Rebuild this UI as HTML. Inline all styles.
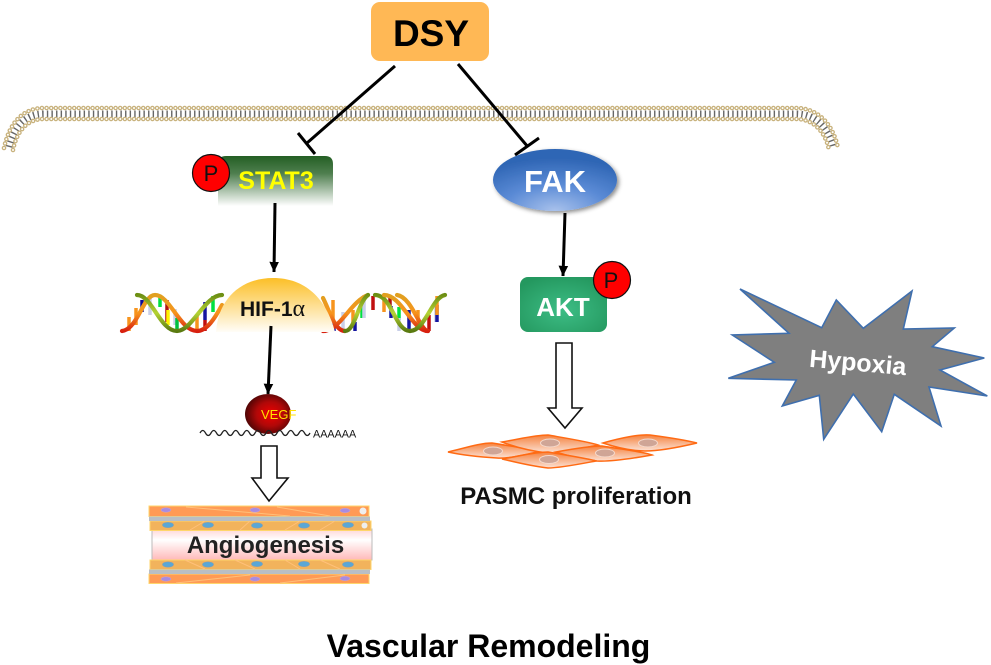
<!DOCTYPE html>
<html><head><meta charset="utf-8"><style>
html,body{margin:0;padding:0;background:#fff}
svg{display:block}
text{font-family:"Liberation Sans",Arial,sans-serif}
</style></head><body>
<svg width="991" height="665" viewBox="0 0 991 665" xmlns="http://www.w3.org/2000/svg">
<defs>
<linearGradient id="stat" x1="0" y1="0" x2="0" y2="1"><stop offset="0" stop-color="#245f24"/><stop offset=".35" stop-color="#4f7f4f"/><stop offset="1" stop-color="#fff"/></linearGradient>
<linearGradient id="dome" x1="0" y1="0" x2="0" y2="1"><stop offset="0" stop-color="#fcbf27"/><stop offset="1" stop-color="#fffdf8"/></linearGradient>
<radialGradient id="fak" cx=".5" cy="1" r=".85"><stop offset="0" stop-color="#a9c2ec"/><stop offset=".5" stop-color="#5b8bd6"/><stop offset="1" stop-color="#2f66b5"/></radialGradient>
<radialGradient id="akt" cx=".5" cy=".6" r=".65"><stop offset="0" stop-color="#3dbd85"/><stop offset="1" stop-color="#24985f"/></radialGradient>
<radialGradient id="vegf" cx=".55" cy=".5" r=".55"><stop offset="0" stop-color="#f00000"/><stop offset=".55" stop-color="#b00808"/><stop offset="1" stop-color="#4e0505"/></radialGradient>
<linearGradient id="tube" x1="0" y1="0" x2="0" y2="1"><stop offset="0" stop-color="#ffd6d6"/><stop offset=".35" stop-color="#fff"/><stop offset="1" stop-color="#ffb9b9"/></linearGradient>
<linearGradient id="cell" x1="0" y1="0" x2="0" y2="1"><stop offset="0" stop-color="#f5823e"/><stop offset="1" stop-color="#fbe2d6"/></linearGradient>
<linearGradient id="h1" gradientUnits="userSpaceOnUse" x1="0" y1="331" x2="0" y2="295"><stop offset="0" stop-color="#d8200f"/><stop offset=".5" stop-color="#f7941d"/><stop offset="1" stop-color="#e0a020"/></linearGradient>
<linearGradient id="h2" gradientUnits="userSpaceOnUse" x1="0" y1="331" x2="0" y2="295"><stop offset="0" stop-color="#5a7a10"/><stop offset=".5" stop-color="#b5d334"/><stop offset="1" stop-color="#6d8f14"/></linearGradient>
<filter id="sh" x="-20%" y="-20%" width="140%" height="140%"><feDropShadow dx="2" dy="2" stdDeviation="2" flood-color="#000" flood-opacity=".45"/></filter>
<marker id="ah" markerWidth="4" markerHeight="4" refX="3.4" refY="2" orient="auto"><path d="M0,0.4 L3.5,2 L0,3.6Z" fill="#000"/></marker>
</defs>

<!-- membrane -->
<g fill="none">
<path d="M9,147 C14,128 24,114 44,114 L796,114 C816,114 828,128 833,147" stroke="#666" stroke-width="7" stroke-dasharray="1.4 3.2"/>
<g stroke="#c8b27d" stroke-width="4.6" stroke-linecap="round" stroke-dasharray="0 4.6">
<path d="M4,148 C9,124 22,108 44,108 L796,108 C818,108 833,124 838,148"/>
<path d="M13,150 C17,130 28,119 44,119 L796,119 C812,119 825,130 829,150"/>
</g>
<g stroke="#fff" stroke-width="2" stroke-linecap="round" stroke-dasharray="0 4.6">
<path d="M4,148 C9,124 22,108 44,108 L796,108 C818,108 833,124 838,148"/>
<path d="M13,150 C17,130 28,119 44,119 L796,119 C812,119 825,130 829,150"/>
</g>
</g>

<!-- DSY -->
<rect x="371" y="2" width="118" height="59" rx="9" fill="#ffb855"/>
<text x="431" y="46" font-size="37" font-weight="bold" text-anchor="middle" fill="#000">DSY</text>

<!-- inhibit lines -->
<g stroke="#000" stroke-width="3" fill="none">
<path d="M395,66 L307,143"/><path d="M298,133 L315,154"/>
<path d="M458,64 L528,147"/><path d="M515,155 L539,138"/>
</g>

<!-- STAT3 -->
<path d="M226,156 H325 Q333,156 333,164 V206 H218 V164 Q218,156 226,156Z" fill="url(#stat)"/>
<circle cx="211" cy="173" r="18.5" fill="#f00" stroke="#111" stroke-width="1.2"/>
<text x="211" y="181" font-size="22" text-anchor="middle" fill="#111">P</text>
<text x="276" y="189" font-size="25" font-weight="bold" text-anchor="middle" fill="#ff0">STAT3</text>

<!-- FAK -->
<ellipse cx="555" cy="180" rx="62" ry="31" fill="url(#fak)" filter="url(#sh)"/>
<text x="555" y="192" font-size="31" font-weight="bold" text-anchor="middle" fill="#fff">FAK</text>

<!-- AKT -->
<rect x="520" y="277" width="87" height="55" rx="8" fill="url(#akt)"/>
<text x="563" y="316" font-size="26" font-weight="bold" text-anchor="middle" fill="#fff">AKT</text>
<circle cx="612" cy="280" r="18.5" fill="#f00" stroke="#111" stroke-width="1.2"/>
<text x="611" y="288" font-size="22" text-anchor="middle" fill="#111">P</text>

<!-- DNA left -->
<g stroke-width="3.5">
<path d="M129,317V331M136,308V325" stroke="#f7941d"/><path d="M142,300V312" stroke="#0a0a99"/><path d="M150,296V315" stroke="#c9cfe8"/>
<path d="M160,295V307" stroke="#00e040"/><path d="M167,300V322" stroke="#b01010"/><path d="M168,310V325" stroke="#fff200"/>
<path d="M175,309V325" stroke="#c9cfe8"/><path d="M177,318V331" stroke="#00c040"/><path d="M197,316V331" stroke="#f7941d"/>
<path d="M205,302V320" stroke="#1515a0"/><path d="M205,320V331" stroke="#c01010"/><path d="M213,296V312" stroke="#00e040"/>
</g>
<g fill="none" stroke-width="4.2" stroke-linecap="round">
<path d="M122,331 C138,329 143,295 155,295 C170,295 180,331 197,331 C207,331 215,318 222,305" stroke="url(#h1)"/>
<path d="M137,295 C152,295 160,331 177,331 C192,331 205,295 222,295" stroke="url(#h2)"/>
</g>
<!-- DNA right -->
<g stroke-width="3.5">
<path d="M333,300V320" stroke="#f7941d"/><path d="M327,322V331" stroke="#00e040"/><path d="M334,322V331" stroke="#1515a0"/>
<path d="M343,312V331" stroke="#c9cfe8"/><path d="M353,310V325" stroke="#f7941d"/><path d="M355,322V331" stroke="#1515a0"/>
<path d="M362,305V318" stroke="#00e040"/><path d="M364,295V318" stroke="#c9cfe8"/><path d="M373,296V310" stroke="#c01010"/>
<path d="M384,295V312" stroke="#f7941d"/><path d="M390,296V306" stroke="#b01010"/><path d="M391,306V318" stroke="#1515a0"/>
<path d="M399,307V320" stroke="#00e040"/><path d="M399,318V331" stroke="#c9cfe8"/><path d="M409,310V331" stroke="#1515a0"/>
<path d="M418,310V326" stroke="#f7941d"/><path d="M429,315V331" stroke="#c01010"/><path d="M436,300V322" stroke="#c9cfe8"/><path d="M437,305V322" stroke="#1515a0"/><path d="M437,296V315" stroke="#f7941d"/>
</g>
<g fill="none" stroke-width="4.2" stroke-linecap="round">
<path d="M323,298 C330,312 335,331 345,331" stroke="url(#h1)"/>
<path d="M323,331 C340,331 350,302 368,295" stroke="url(#h1)"/>
<path d="M345,331 C355,331 358,302 368,295" stroke="url(#h2)"/>
<path d="M375,295 C392,295 395,331 410,331" stroke="url(#h2)"/>
<path d="M384,295 C402,295 412,331 428,331" stroke="url(#h1)"/>
<path d="M397,295 C412,297 420,331 428,331" stroke="url(#h1)"/>
<path d="M410,331 C425,331 432,297 445,295" stroke="url(#h2)"/>
</g>

<!-- HIF -->
<path d="M216,332 C218,300 240,278 273,278 C305,278 326,298 335,332Z" fill="url(#dome)"/>
<text x="240" y="316" font-size="21" font-weight="bold" fill="#111">HIF-1<tspan font-family="'Liberation Serif',serif" font-weight="normal" font-size="24">α</tspan></text>

<!-- arrows -->
<g stroke="#000" stroke-width="3" fill="none">
<path d="M275,203 L274,272" marker-end="url(#ah)"/>
<path d="M565,213 L563,276" marker-end="url(#ah)"/>
<path d="M271,326 L268,394" marker-end="url(#ah)"/>
</g>

<!-- VEGF -->
<ellipse cx="268" cy="414" rx="23" ry="20" fill="url(#vegf)"/>
<text x="261" y="419" font-size="13" fill="#ffe000">VEGF</text>
<path d="M200,433 q2.75,-5 5.5,0 t5.5,0 t5.5,0 t5.5,0 t5.5,0 t5.5,0 t5.5,0 t5.5,0 t5.5,0 t5.5,0 t5.5,0 t5.5,0 t5.5,0 t5.5,0 t5.5,0 t5.5,0 t5.5,0 t5.5,0 t5.5,0 t5.5,0" fill="none" stroke="#222" stroke-width="1.3"/>
<text x="313" y="437.500" font-size="10.800" fill="#111">AAAAAA</text>

<!-- hollow arrows -->
<path d="M261,446 H277 V478 H288 L269,501 L252,478 H261Z" fill="#fff" stroke="#111" stroke-width="1.6"/>
<path d="M556,343 H572 V408 H582 L565,428 L548,408 H556Z" fill="#fff" stroke="#111" stroke-width="1.6"/>

<!-- vessel -->
<rect x="152" y="529" width="220" height="31" fill="url(#tube)" stroke="#bbb" stroke-width="1"/>
<g stroke="#ffd66b" stroke-width="1">
<rect x="149" y="506" width="220" height="10.500" fill="#ff9a55"/>
<rect x="149" y="574" width="220" height="9.500" fill="#ff9a55"/>
<rect x="150" y="521" width="221" height="9.500" fill="#f2b35c"/>
<rect x="150" y="560" width="221" height="9.500" fill="#f2b35c"/>
</g>
<rect x="149" y="516.500" width="221" height="4.500" fill="#b9bec4"/>
<rect x="149" y="569.500" width="221" height="4.500" fill="#b9bec4"/>
<g stroke="#ffc07a" stroke-width="1" fill="none">
<path d="M186,507 L290,516M277,507 L330,516M176,583 L250,575M280,583 L345,575"/>
<path d="M205,521 L190,530M240,530 L250,521M285,530 L300,521M320,530 L335,521M185,560 L205,569M235,560 L255,569M285,560 L300,569M320,560 L340,569"/>
</g>
<g fill="#5aa7d6" stroke="#7e9fb5" stroke-width=".6">
<ellipse cx="168" cy="525" rx="5.500" ry="2.600"/><ellipse cx="208" cy="525" rx="5.500" ry="2.600"/><ellipse cx="257" cy="525.500" rx="5.500" ry="2.600"/><ellipse cx="304" cy="525.500" rx="5.500" ry="2.600"/><ellipse cx="348" cy="525" rx="5.500" ry="2.600"/>
<ellipse cx="168" cy="564.500" rx="5.500" ry="2.600"/><ellipse cx="208" cy="564.500" rx="5.500" ry="2.600"/><ellipse cx="257" cy="564" rx="5.500" ry="2.600"/><ellipse cx="304" cy="564" rx="5.500" ry="2.600"/><ellipse cx="348" cy="564.500" rx="5.500" ry="2.600"/>
</g>
<g fill="#a98be0" stroke="#c9a5d0" stroke-width=".5">
<ellipse cx="166" cy="510" rx="5" ry="2.200"/><ellipse cx="255" cy="510" rx="5" ry="2.200"/><ellipse cx="345" cy="510.500" rx="5" ry="2.200"/>
<ellipse cx="166" cy="579" rx="5" ry="2.200"/><ellipse cx="255" cy="579" rx="5" ry="2.200"/><ellipse cx="345" cy="578.500" rx="5" ry="2.200"/>
</g>
<circle cx="363" cy="511" r="3.500" fill="#eee"/><circle cx="364.500" cy="525.500" r="3" fill="#eee"/>
<text x="265.500" y="553" font-size="24" font-weight="bold" text-anchor="middle" fill="#222">Angiogenesis</text>

<!-- cells -->
<g fill="url(#cell)" stroke="#ff6a13" stroke-width="1.5">
<path d="M603,443 C620,438 640,434 650,435 C665,437 685,440 697,443 C680,447 660,451 645,451 C630,451 615,447 603,443Z"/>
<path d="M448,452 C465,448 480,443 492,443 C510,446 530,449 541,451 C525,455 505,459 497,458 C480,457 462,455 448,452Z"/>
<path d="M502,442 C520,439 535,435 548,435 C565,438 590,442 598,445 C580,449 560,454 548,453 C530,451 515,447 502,442Z"/>
<path d="M556,452 C572,449 590,446 602,446 C620,449 645,452 652,455 C635,458 610,462 597,461 C580,459 565,455 556,452Z"/>
<path d="M502,459 C520,456 535,452 548,452 C565,455 590,459 596,461 C580,464 560,468 548,468 C530,466 515,462 502,459Z"/>
</g>
<g fill="#cfa596" stroke="#f4d9cc" stroke-width="1">
<ellipse cx="493" cy="451" rx="9.500" ry="4"/><ellipse cx="550" cy="443" rx="9.500" ry="4"/><ellipse cx="648" cy="443" rx="9.500" ry="4"/><ellipse cx="605" cy="453" rx="9.500" ry="4"/><ellipse cx="549" cy="459.500" rx="9.500" ry="4"/>
</g>
<text x="576" y="504" font-size="24" font-weight="bold" text-anchor="middle" fill="#111">PASMC proliferation</text>

<!-- Hypoxia -->
<polygon points="740,289 821.700,327.700 836.300,300 863.300,328.300 912,291 903.300,329 954.300,328 932.300,346.700 984.300,358 940,370 987.300,396 929,387 941,426 894.300,394.300 881.700,431.700 853.300,394 823.700,439.300 819.300,395.300 782.300,406 796.300,380 728.300,378.300 774.300,362.300 732.300,335 789,333.300" fill="#7f7f7f" stroke="#3f6fae" stroke-width="1.6" stroke-linejoin="miter"/>
<text x="858" y="371" font-size="25" font-weight="bold" text-anchor="middle" fill="#fff" transform="rotate(5 858 362)">Hypoxia</text>

<text x="488.500" y="657" font-size="32" font-weight="bold" text-anchor="middle" fill="#000">Vascular Remodeling</text>
</svg>
</body></html>
